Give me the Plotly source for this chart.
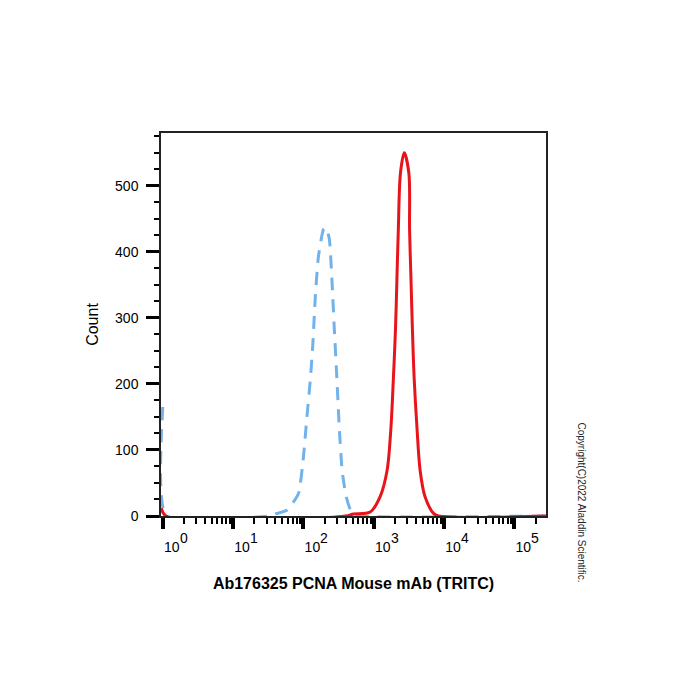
import plotly.graph_objects as go

# ---- data ----
blue_x = [1.0, 1.12, 31.6, 39.8, 58.9, 85.1, 100, 112, 126, 136, 148, 164, 193, 211,
          234, 254, 275, 299, 324, 355, 407, 490, 603, 282000]
blue_y = [165, 0, 0, 3, 9, 34, 89, 149, 209, 259, 334, 394, 434, 437,
          419, 359, 284, 209, 134, 69, 29, 4, 0, 0]

red_x = [0.955, 1.12, 398, 513, 891, 1230, 1549, 1758, 1905, 2042, 2138, 2239, 2399, 2716,
         3162, 3236, 3388, 3548, 3758, 4121, 4571, 5370, 7079, 8318, 282000]
red_y = [12, 0, 0, 3, 6, 29, 69, 134, 209, 284, 359, 434, 519, 550,
         519, 434, 359, 284, 209, 134, 69, 29, 4, 0, 0]

x_tick_vals = [1, 10, 100, 1000, 10000, 100000]
x_tick_base = ["10", "10", "10", "10", "10", "10"]
x_tick_exps = ["0", "1", "2", "3", "4", "5"]
x_title = "Ab176325 PCNA Mouse mAb (TRITC)"
y_title = "Count"
copyright_text = "Copyright(C)2022 Aladdin Scientific."

FONT = "Arial, Liberation Sans, sans-serif"
minor_vals = [m * 10 ** d for d in range(0, 6) for m in range(2, 10)]

fig = go.Figure()
fig.add_trace(go.Scatter(x=blue_x, y=blue_y, mode="lines",
                         line=dict(color="#72b2ea", width=3, dash="13px,9px", shape="spline", smoothing=0.5),
                         showlegend=False))
fig.add_trace(go.Scatter(x=red_x, y=red_y, mode="lines",
                         line=dict(color="#e8141b", width=3, shape="spline", smoothing=0.9),
                         showlegend=False))

fig.update_xaxes(type="log", range=[-0.025, 5.45],
                 showline=True, linecolor="#222", linewidth=1.5, mirror=True,
                 showgrid=False, zeroline=False,
                 tickmode="array", tickvals=x_tick_vals, ticktext=x_tick_base,
                 ticks="outside", ticklen=11, tickwidth=4, tickcolor="black",
                 ticklabelshift=9, ticklabelstandoff=6,
                 tickfont=dict(family=FONT, size=14, color="black"),
                 minor=dict(tickmode="array", tickvals=minor_vals, ticks="outside",
                            ticklen=6, tickwidth=1.5, tickcolor="black"),
                 title=dict(text=x_title, standoff=24,
                            font=dict(family=FONT, size=16, color="black", weight="bold")))
fig.update_yaxes(range=[0, 580],
                 showline=True, linecolor="#222", linewidth=1.5, mirror=True,
                 showgrid=False, zeroline=False,
                 dtick=100, ticks="outside", ticklen=13, tickwidth=3, tickcolor="black",
                 ticklabelstandoff=5,
                 tickfont=dict(family=FONT, size=14, color="black"),
                 minor=dict(dtick=25, ticks="outside", ticklen=5, tickwidth=1.5, tickcolor="black"),
                 title=dict(text=y_title, standoff=12,
                            font=dict(family=FONT, size=16, color="black")))

# exponents of the decade labels, drawn full size and raised
for v, e in zip(x_tick_vals, x_tick_exps):
    fig.add_annotation(text=e, xref="x", yref="paper", x=[0, 1, 2, 3, 4, 5][x_tick_vals.index(v)],
                       y=0, xshift=21, yshift=-22, yanchor="middle", xanchor="center",
                       showarrow=False, font=dict(family=FONT, size=14, color="black"))

fig.add_annotation(text=copyright_text, xref="paper", yref="paper", x=1.0, y=0.0,
                   xshift=43, yshift=-68, textangle=90, showarrow=False,
                   font=dict(family=FONT, size=10, color="#222"))

fig.update_layout(width=700, height=700, margin=dict(l=161, r=154, t=133, b=184),
                  plot_bgcolor="white", paper_bgcolor="white")

fig.write_html("out.html")
